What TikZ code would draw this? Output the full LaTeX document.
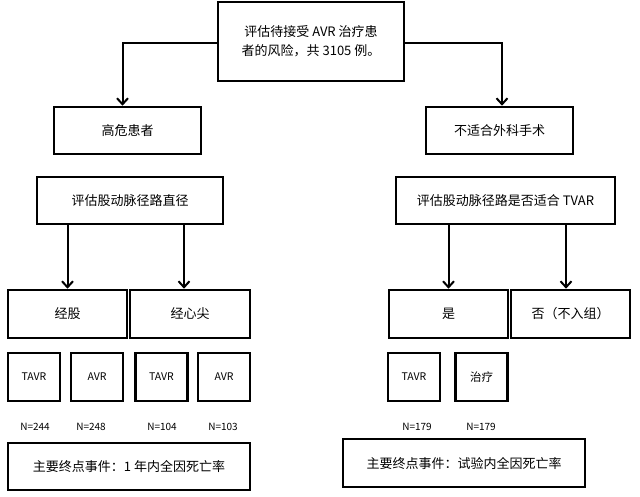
\documentclass[tikz,border=0pt]{standalone}
\usepackage{fontspec}
\newfontfamily\cjk{Noto Sans CJK SC}
\usetikzlibrary{arrows.meta}

\begin{document}
\begin{tikzpicture}[x=1pt, y=-1pt,
    box/.style={draw, line width=2.6pt, inner sep=0pt, align=center,
      font=\cjk\fontsize{13}{19}\selectfont},
    arm/.style={box, minimum width=52pt, minimum height=48pt,
      font=\cjk\fontsize{10.5}{12}\selectfont},
    count/.style={font=\cjk\fontsize{10}{12}\selectfont},
    link/.style={line width=2pt, -{Straight Barb[length=6pt, width=11pt, line width=2pt]}}]
    \useasboundingbox (0, 0) rectangle (640, 496);

    \node[box, minimum width=186pt, minimum height=79pt] (risk) at (311, 41.5)
      {评估待接受 AVR 治疗患\\者的风险，共 3105 例。};

    \node[box, minimum width=147pt, minimum height=47pt] (high) at (127.5, 130.5) {高危患者};
    \node[box, minimum width=147pt, minimum height=47pt] (unfit) at (499.5, 130.5) {不适合外科手术};

    \draw[link] ([yshift=-1.5]risk.west) -| ([xshift=-5]high.north);
    \draw[link] ([yshift=-1.5]risk.east) -| ([xshift=2.5]unfit.north);

    \node[box, minimum width=186pt, minimum height=47pt] (diam) at (130, 200.5) {评估股动脉径路直径};
    \node[box, minimum width=219pt, minimum height=47pt] (suit) at (505.5, 200.5) {评估股动脉径路是否适合 TVAR};

    \node[box, minimum width=119pt, minimum height=48pt] (femoral) at (67.5, 314) {经股};
    \node[box, minimum width=120pt, minimum height=48pt] (apical) at (190, 314) {经心尖};
    \node[box, minimum width=119pt, minimum height=48pt] (yes) at (448.5, 314) {是};
    \node[box, minimum width=119pt, minimum height=48pt] (no) at (570.5, 314) {否（不入组）};

    \draw[link] (diam.south -| femoral.north) -- (femoral.north);
    \draw[link] ([xshift=-6]diam.south -| apical.north) -- ([xshift=-6]apical.north);
    \draw[link] (suit.south -| yes.north) -- (yes.north);
    \draw[link] ([xshift=-4.5]suit.south -| no.north) -- ([xshift=-4.5]no.north);

    \node[arm] (tavrA) at (34, 377) {TAVR};
    \node[arm] (avrA) at (97, 377) {AVR};
    \node[arm] (tavrB) at (161.5, 377) {TAVR};
    \node[arm] (avrB) at (224, 377) {AVR};
    \node[arm] (tavrC) at (414, 377) {TAVR};
    \node[arm, font=\cjk\fontsize{11.5}{13}\selectfont] (treat) at (481.5, 377) {治疗};

    \node[count] (nA) at (35, 427) {N=244};
    \node[count] (nB) at (91, 427) {N=248};
    \node[count] (nC) at (162, 427) {N=104};
    \node[count] (nD) at (223, 427) {N=103};
    \node[count] (nE) at (417, 427) {N=179};
    \node[count] (nF) at (481, 427) {N=179};

    \node[box, minimum width=242pt, minimum height=47pt] (endA) at (129, 466.5) {主要终点事件：1 年内全因死亡率};
    \node[box, minimum width=242pt, minimum height=48pt] (endB) at (464, 463) {主要终点事件：试验内全因死亡率};
  \end{tikzpicture}
\end{document}
